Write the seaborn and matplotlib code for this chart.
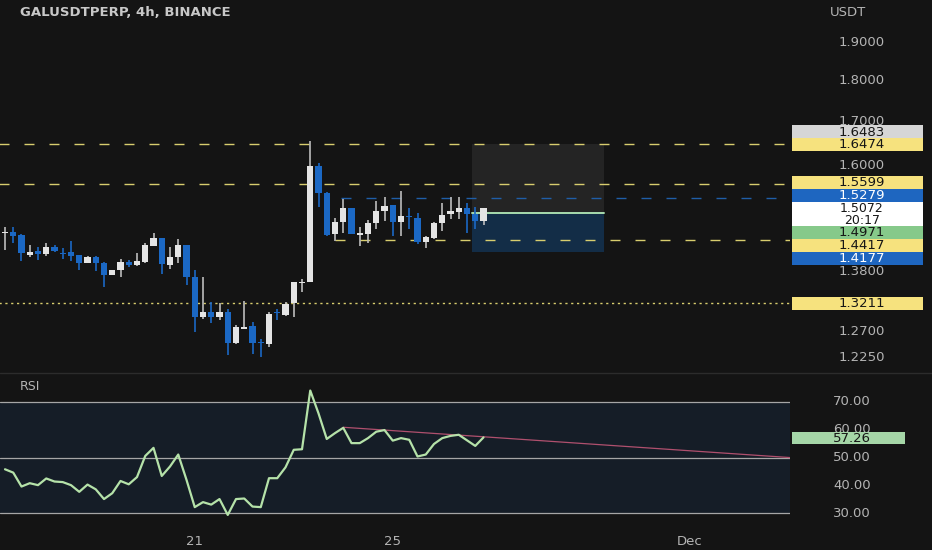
import numpy as np
import matplotlib
matplotlib.use("Agg")
import matplotlib.pyplot as plt
import matplotlib.transforms as mtransforms
from matplotlib.lines import Line2D
from matplotlib.patches import Rectangle
import seaborn as sns

# ---- candle data (GALUSDTPERP 4h) ----
opens = [1.4562, 1.4588, 1.4521, 1.4123, 1.4207, 1.4142, 1.4274, 1.4168, 1.4182, 1.4116,
         1.3972, 1.4089, 1.3972, 1.3740, 1.3830, 1.3991, 1.3921, 1.3991, 1.4300, 1.4454,
         1.3927, 1.4077, 1.4314, 1.3701, 1.2948, 1.3049, 1.2959, 1.3049, 1.2487, 1.2743,
         1.2791, 1.2509, 1.2475, 1.3049, 1.2984, 1.3203, 1.3587, 1.3600, 1.5978, 1.5402,
         1.4542, 1.4793, 1.5072, 1.4527, 1.4542, 1.4760, 1.5021, 1.5141, 1.4793, 1.4911,
         1.4864, 1.4386, 1.4454, 1.4772, 1.4953, 1.5000, 1.5072, 1.4953, 1.4814]
highs = [1.4691, 1.4685, 1.4542, 1.4320, 1.4274, 1.4354, 1.4314, 1.4255, 1.4394, 1.4120,
         1.4103, 1.4103, 1.3985, 1.3835, 1.4049, 1.4024, 1.4168, 1.4366, 1.4568, 1.4458,
         1.4287, 1.4434, 1.4320, 1.3830, 1.3690, 1.3233, 1.3214, 1.3093, 1.2809, 1.3240,
         1.2863, 1.2556, 1.3049, 1.3093, 1.3227, 1.3605, 1.3651, 1.6560, 1.6060, 1.5423,
         1.4864, 1.5261, 1.5080, 1.4691, 1.4828, 1.5232, 1.5317, 1.5145, 1.5446, 1.5072,
         1.4980, 1.4501, 1.4787, 1.5190, 1.5304, 1.5304, 1.5190, 1.5093, 1.5080]
lows = [1.4221, 1.4360, 1.4010, 1.4089, 1.4024, 1.4103, 1.4188, 1.4038, 1.4010, 1.3830,
        1.3956, 1.3817, 1.3512, 1.3728, 1.3701, 1.3882, 1.3908, 1.3972, 1.4298, 1.3753,
        1.3844, 1.3960, 1.3538, 1.2690, 1.2917, 1.2851, 1.2899, 1.2286, 1.2480, 1.2732,
        1.2303, 1.2251, 1.2418, 1.2899, 1.2966, 1.2948, 1.3413, 1.3595, 1.5106, 1.4501,
        1.4406, 1.4556, 1.4535, 1.4300, 1.4366, 1.4637, 1.4814, 1.4501, 1.4501, 1.4637,
        1.4340, 1.4255, 1.4440, 1.4609, 1.4843, 1.4843, 1.4556, 1.4650, 1.4725]
closes = [1.4582, 1.4501, 1.4156, 1.4188, 1.4142, 1.4274, 1.4207, 1.4142, 1.4103, 1.3972,
          1.4077, 1.3972, 1.3728, 1.3830, 1.3985, 1.3927, 1.4010, 1.4320, 1.4454, 1.3946,
          1.4077, 1.4314, 1.3701, 1.2948, 1.3049, 1.2948, 1.3049, 1.2487, 1.2768, 1.2768,
          1.2487, 1.2487, 1.3008, 1.3020, 1.3190, 1.3600, 1.3600, 1.5978, 1.5390, 1.4521,
          1.4793, 1.5072, 1.4542, 1.4556, 1.4760, 1.5021, 1.5120, 1.4793, 1.4911, 1.4884,
          1.4386, 1.4474, 1.4772, 1.4932, 1.5021, 1.5072, 1.4953, 1.4814, 1.5072]
rsi = [45.8, 44.6, 39.6, 40.8, 40.1, 42.5, 41.4, 41.2, 40.1, 37.7,
       40.3, 38.6, 35.1, 37.2, 41.6, 40.4, 43.0, 50.6, 53.5, 43.4,
       46.8, 51.1, 42.0, 32.2, 34.0, 33.1, 35.1, 29.4, 35.1, 35.3,
       32.4, 32.2, 42.6, 42.6, 46.5, 52.8, 53.0, 74.1, 65.9, 56.7,
       58.8, 60.7, 55.2, 55.2, 57.0, 59.3, 59.9, 56.1, 57.0, 56.4,
       50.4, 51.1, 54.9, 57.0, 57.8, 58.2, 56.2, 54.2, 57.26]

xtick_pos = [23, 47, 83]
xtick_labels = ["21", "25", "Dec"]
price_ticks = [1.9, 1.8, 1.7, 1.6, 1.38, 1.27, 1.225]
rsi_ticks = [70, 60, 50, 40, 30]

# horizontal levels drawn on the chart
level_prices = [1.6474, 1.5599, 1.4417, 1.3211, 1.5279]
level_start = [-1, -1, 40, -1, 40.7]
level_colors = ["#d8cd6e", "#d8cd6e", "#d8cd6e", "#d8cd6e", "#1f5ea8"]
level_style = ["dash", "dash", "dash", "dot", "dash"]

# long position tool
pos_entry, pos_target, pos_stop = 1.4971, 1.6483, 1.4177
pos_x = [56.6, 72.6]

# RSI trendline
rsi_trend_x = [41, 95.2]
rsi_trend_y = [60.9, 50.0]

# price scale labels
scale_values = [1.6483, 1.6474, 1.5599, 1.5279, 1.5072, 1.4971, 1.4417, 1.4177, 1.3211]
scale_fill = ["#d6d6d6", "#f6e27e", "#f6e27e", "#1e66c0", "#ffffff", "#86c98a",
              "#f6e27e", "#1e66c0", "#f6e27e"]
scale_text = ["#161616", "#161616", "#161616", "#ffffff", "#161616", "#161616",
              "#161616", "#ffffff", "#161616"]
countdown = "20:17"
rsi_value = 57.26

BG = "#141414"
GREY = "#b4b4b4"
UP = "#e4e4e4"
UP_WICK = "#bdbdbd"
DOWN = "#1b68c4"

sns.set_theme(style="dark")
plt.rcParams["font.family"] = ["DejaVu Sans"]

W, H = 932, 550
fig = plt.figure(figsize=(W / 100, H / 100), dpi=100)
fig.patch.set_facecolor(BG)


def fx(px):
    return px / W


def fy(py):
    return 1 - py / H


ax = fig.add_axes([0, fy(372), fx(790), 372 / H])
axr = fig.add_axes([0, fy(528), fx(790), 155 / H], sharex=ax)
for a in (ax, axr):
    a.set_facecolor(BG)
    for s in a.spines.values():
        s.set_visible(False)
    a.grid(False)

idx = np.arange(len(opens))
o = np.array(opens)
c = np.array(closes)
up = c >= o
body_lo = np.minimum(o, c)
body_h = np.maximum(np.abs(c - o), 0.0022)

ax.set_yscale("log")
ax.set_ylim(1.1997, 2.0147)
ax.set_xlim(-0.606, 95.15)

# position tool
ax.fill_between(pos_x, pos_entry, pos_target, color="#242424", zorder=1, lw=0)
ax.fill_between(pos_x, pos_stop, pos_entry, color="#13304d", alpha=0.9, zorder=1, lw=0)

# levels
xmax = 95.15
for p, st, col, sty in zip(level_prices, level_start, level_colors, level_style):
    dashes = (7.2, 10.8) if sty == "dash" else (1.6, 2.6)
    ax.plot([st, xmax], [p, p], color=col, lw=1.0, dashes=dashes, zorder=2)

ax.plot(pos_x, [pos_entry, pos_entry], color="#a8dcae", lw=1.4, zorder=2)

# candles
wick_cols = [UP_WICK if u else DOWN for u in up]
body_cols = [UP if u else DOWN for u in up]
ax.vlines(idx, lows, highs, colors=wick_cols, lw=1.2, zorder=3)
ax.bar(idx, body_h, bottom=body_lo, width=0.74, color=body_cols, lw=0, zorder=4)
ax.set_xticks([])
ax.set_yticks([])
ax.yaxis.set_minor_locator(matplotlib.ticker.NullLocator())

# RSI panel
axr.set_ylim(24.7, 80.4)
axr.axhspan(30, 70, color="#151d27", lw=0, zorder=0)
for lvl in (70, 50, 30):
    axr.axhline(lvl, color="#a6a6a6", lw=0.9, zorder=1)
sns.lineplot(x=idx, y=rsi, ax=axr, color="#b5e2a9", lw=1.6, zorder=3)
axr.plot(rsi_trend_x, rsi_trend_y, color="#b0506e", lw=0.9, zorder=2)
axr.set_yticks([])
axr.set_xticks(xtick_pos)
axr.set_xticklabels(xtick_labels, color=GREY, fontsize=9.5)
axr.tick_params(axis="x", length=0, pad=5)
axr.set_xlabel("")
axr.set_ylabel("")

# separator between panels
fig.add_artist(Line2D([0, 1], [fy(373), fy(373)], transform=fig.transFigure,
                      color="#2c2c2c", lw=1))

# titles
fig.text(fx(20), fy(12), "GALUSDTPERP, 4h, BINANCE", color="#c8c8c8",
         fontsize=9.5, fontweight="bold", va="center", ha="left")
fig.text(fx(20), fy(387), "RSI", color=GREY, fontsize=9, va="center", ha="left")
fig.text(fx(848), fy(12), "USDT", color=GREY, fontsize=9.5, va="center", ha="center")

# price scale ticks (1.7000 and 60.00 sit partly under the labels, as on the chart)
tr = mtransforms.blended_transform_factory(fig.transFigure, ax.transData)
for p in price_ticks:
    ax.text(fx(862), p, f"{p:.4f}", transform=tr, color=GREY, fontsize=9.5,
            va="center", ha="center", clip_on=False, zorder=5)

trr = mtransforms.blended_transform_factory(fig.transFigure, axr.transData)
for v in rsi_ticks:
    axr.text(fx(852), v, f"{v:.2f}", transform=trr, color=GREY, fontsize=9.5,
             va="center", ha="center", clip_on=False, zorder=5)

# stacked price labels (pixel centres on the scale)
label_centres = [132, 145, 183, 195.5, 214.5, 233, 245.5, 259, 303.5]
for v, fc, tc, yc in zip(scale_values, scale_fill, scale_text, label_centres):
    last = v == closes[-1]
    h = 25 if last else 13
    fig.add_artist(Rectangle((fx(792), fy(yc + h / 2)), fx(131), h / H,
                             transform=fig.transFigure, facecolor=fc, lw=0, zorder=10))
    if last:
        fig.text(fx(862), fy(yc - 5.5), f"{v:.4f}", color=tc, fontsize=9, va="center",
                 ha="center", zorder=11)
        fig.text(fx(862), fy(yc + 6), countdown, color=tc, fontsize=9, va="center",
                 ha="center", zorder=11)
    else:
        fig.text(fx(862), fy(yc), f"{v:.4f}", color=tc, fontsize=9.5, va="center",
                 ha="center", zorder=11)

# RSI current value
fig.add_artist(Rectangle((fx(792), fy(444)), fx(113), 12.5 / H,
                         transform=fig.transFigure, facecolor="#a5d6a7", lw=0, zorder=10))
fig.text(fx(852), fy(438), f"{rsi_value:.2f}", color="#161616", fontsize=9.5,
         va="center", ha="center", zorder=11)

fig.savefig("out.png", dpi=100, facecolor=BG)
